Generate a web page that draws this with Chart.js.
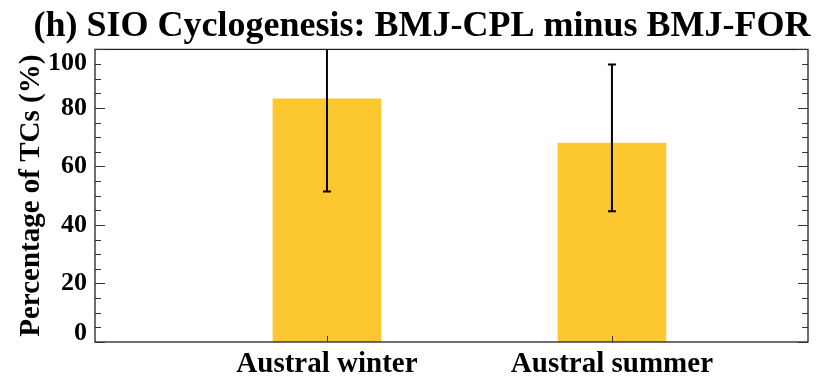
<!DOCTYPE html>
<html>
<head>
<meta charset="utf-8">
<script src="https://cdn.jsdelivr.net/npm/chart.js@4.4.0/dist/chart.umd.min.js"></script>
<style>
    html, body { margin: 0; padding: 0; background: #fff; }
    #wrap { width: 830px; height: 377px; }
</style>
</head>
<body>
<div id="wrap"><canvas id="chart"></canvas></div>
<script>
// data
const seasons = ['Austral winter', 'Austral summer'];
const seasonPos = [0, 1];
const percentTCs = [83.1, 68.0];
const errLow = [51.4, 44.7];
const errHigh = [114.8, 94.8];
const yTicks = [0, 20, 40, 60, 80, 100];

const serif = '"Liberation Serif", "DejaVu Serif", serif';

// frame, inward ticks, y labels and error bars
const framePlugin = {
    id: 'frame',
    afterDatasetsDraw(chart) {
        const ctx = chart.ctx;
        const area = chart.chartArea;
        const x = chart.scales.x;
        const y = chart.scales.y;

        ctx.save();
        ctx.beginPath();
        ctx.rect(area.left, area.top, area.right - area.left, area.bottom - area.top);
        ctx.clip();
        ctx.strokeStyle = '#000';
        ctx.lineWidth = 2;
        seasonPos.forEach((p, i) => {
            const px = x.getPixelForValue(p);
            const lo = y.getPixelForValue(errLow[i]);
            const hi = y.getPixelForValue(errHigh[i]);
            ctx.beginPath();
            ctx.moveTo(px, lo);
            ctx.lineTo(px, hi);
            ctx.moveTo(px - 4, lo);
            ctx.lineTo(px + 4, lo);
            ctx.moveTo(px - 4, hi);
            ctx.lineTo(px + 4, hi);
            ctx.stroke();
        });
        ctx.restore();

        ctx.save();
        ctx.strokeStyle = '#222';
        ctx.lineWidth = 1.3;
        ctx.strokeRect(area.left, area.top, area.right - area.left, area.bottom - area.top);

        ctx.lineWidth = 1;
        ctx.strokeStyle = '#333';
        for (let v = 0; v <= 100; v += 5) {
            const py = Math.round(y.getPixelForValue(v)) + 0.5;
            const len = v % 20 === 0 ? 10 : 6;
            ctx.beginPath();
            ctx.moveTo(area.left, py);
            ctx.lineTo(area.left + len, py);
            ctx.moveTo(area.right, py);
            ctx.lineTo(area.right - len, py);
            ctx.stroke();
        }
        seasonPos.forEach(p => {
            const px = Math.round(x.getPixelForValue(p)) + 0.5;
            ctx.beginPath();
            ctx.moveTo(px, area.bottom);
            ctx.lineTo(px, area.bottom - 6);
            ctx.stroke();
        });

        ctx.fillStyle = '#000';
        ctx.font = 'bold 26px ' + serif;
        ctx.textAlign = 'right';
        ctx.textBaseline = 'middle';
        yTicks.forEach(v => {
            let py = y.getPixelForValue(v);
            py = Math.min(Math.max(py, area.top + 14), area.bottom - 9);
            ctx.fillText(String(v), area.left - 8, py);
        });
        ctx.restore();
    }
};

new Chart(document.getElementById('chart').getContext('2d'), {
    type: 'bar',
    data: {
        datasets: [{
            data: seasonPos.map((p, i) => ({ x: p, y: percentTCs[i] })),
            backgroundColor: '#fdc82f',
            borderWidth: 0,
            barThickness: 108
        }]
    },
    plugins: [framePlugin],
    options: {
        responsive: true,
        maintainAspectRatio: false,
        animation: false,
        layout: { padding: { left: 14, right: 0, top: 0, bottom: 0 } },
        plugins: {
            legend: { display: false },
            tooltip: { enabled: false },
            title: {
                display: true,
                text: '(h) SIO Cyclogenesis: BMJ-CPL minus BMJ-FOR',
                color: '#000',
                font: { family: serif, size: 36, weight: 'bold', lineHeight: 1.15 },
                padding: { top: 6, bottom: 2 }
            }
        },
        scales: {
            x: {
                type: 'linear',
                offset: false,
                min: -0.814,
                max: 1.688,
                afterBuildTicks: s => { s.ticks = seasonPos.map(v => ({ value: v })); },
                afterFit: s => { s.height = 35; },
                grid: { display: false, drawTicks: false, offset: false },
                border: { display: false },
                ticks: {
                    color: '#000',
                    padding: 5,
                    maxRotation: 0,
                    autoSkip: false,
                    font: { family: serif, size: 29, weight: 'bold' },
                    callback: v => seasons[seasonPos.indexOf(v)]
                }
            },
            y: {
                min: 0,
                max: 100,
                afterFit: s => { s.width = 81; },
                grid: { display: false, drawTicks: false },
                border: { display: false },
                ticks: { display: false },
                title: {
                    display: true,
                    text: 'Percentage of TCs (%)',
                    color: '#000',
                    font: { family: serif, size: 29, weight: 'bold', lineHeight: 1.2 },
                    padding: 0
                }
            },
            y2: {
                position: 'right',
                min: 0,
                max: 100,
                afterFit: s => { s.width = 22; },
                grid: { display: false, drawTicks: false },
                border: { display: false },
                ticks: { display: false }
            }
        }
    }
});
</script>
</body>
</html>
